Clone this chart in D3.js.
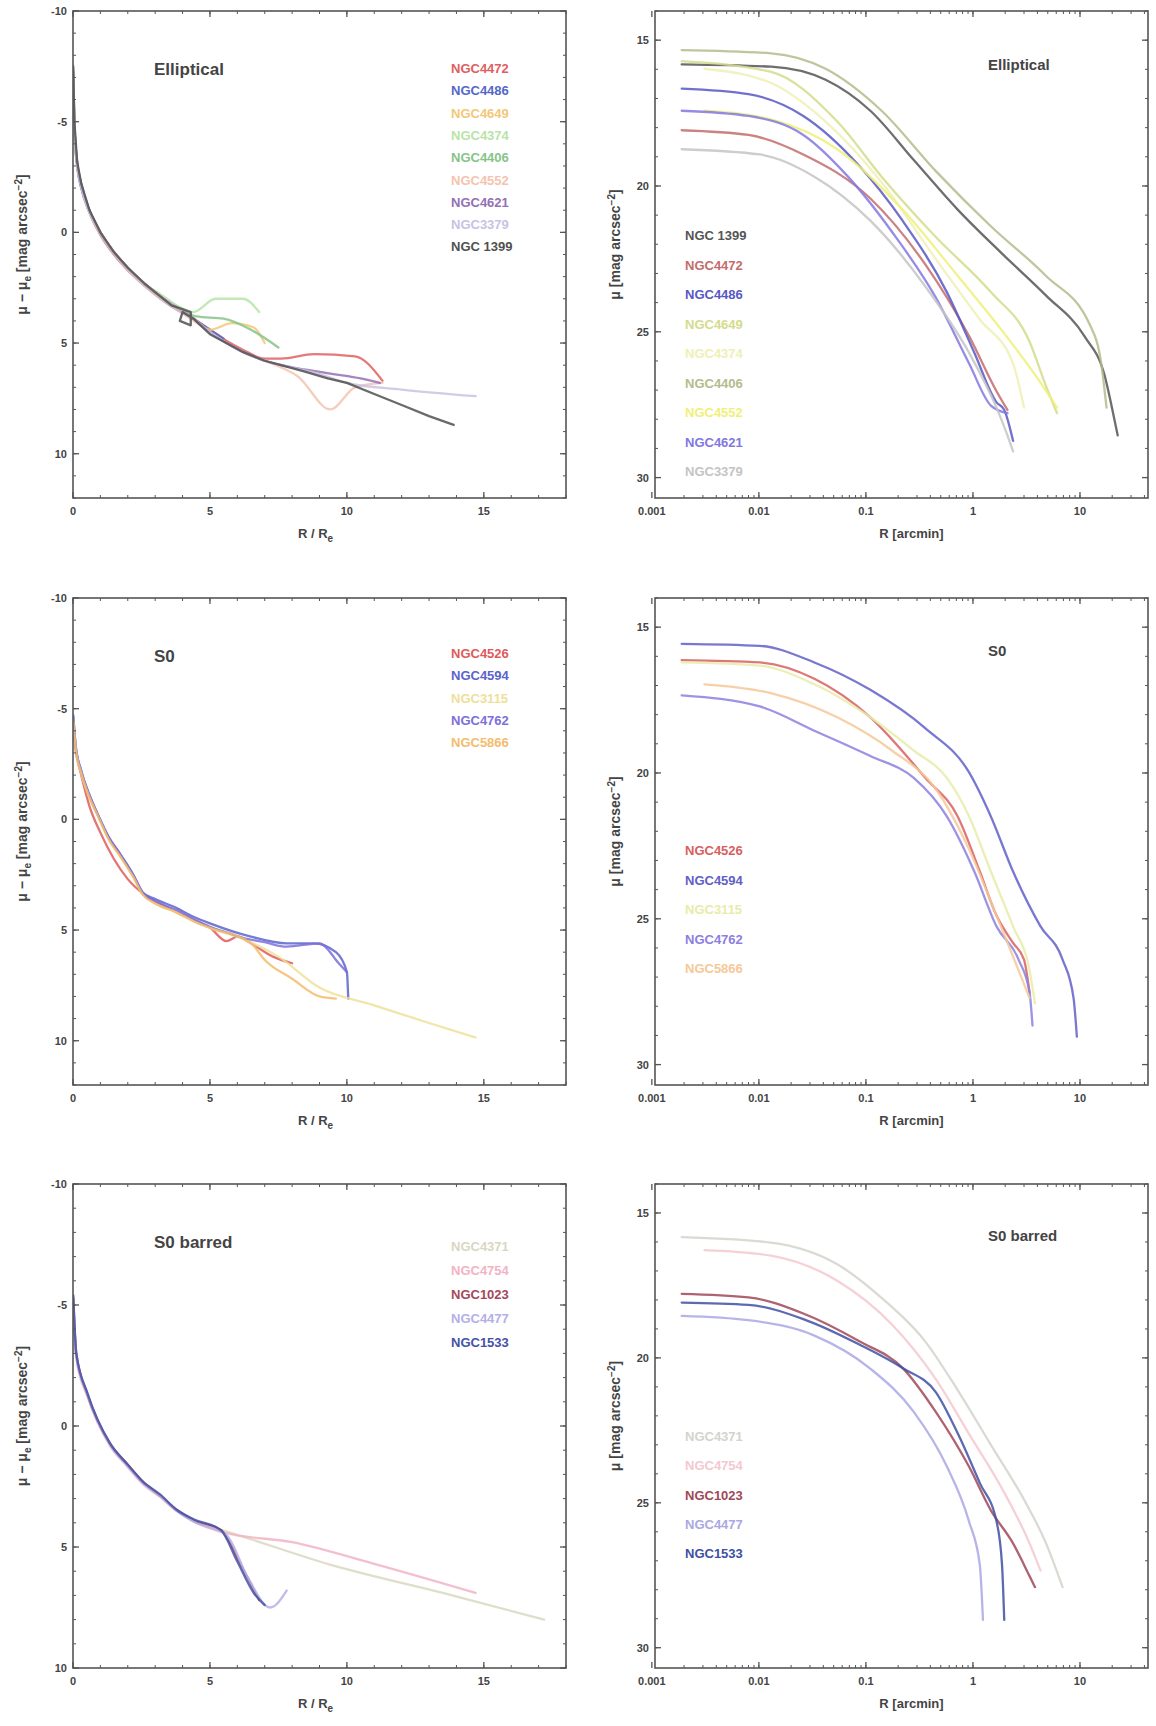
<!DOCTYPE html>
<html><head><meta charset="utf-8">
<script src="https://cdn.jsdelivr.net/npm/d3@7"></script>
<style>body{margin:0;background:#fff;} text{font-family:"Liberation Sans",Arial,sans-serif;}</style>
</head><body>
<svg id="c" width="1156" height="1726"></svg>
<script>
// ---------- tick labels ----------
const leftXTicks = [0, 5, 10, 15];
const leftYTicks = [-10, -5, 0, 5, 10];
const rightXTicks = [0.001, 0.01, 0.1, 1, 10];
const rightXTickLabels = ["0.001", "0.01", "0.1", "1", "10"];
const rightYTicks = [15, 20, 25, 30];

// ---------- panel titles ----------
const rowTitles = ["Elliptical", "S0", "S0 barred"];

// ---------- Row 1: Elliptical ----------
const ellNamesLeft = ["NGC4472", "NGC4486", "NGC4649", "NGC4374", "NGC4406", "NGC4552", "NGC4621", "NGC3379", "NGC 1399"];
const ellColorsLeft = ["#e06060", "#5468c8", "#f2c878", "#b8e4a8", "#86c488", "#f4c4b0", "#9470b4", "#cac2e4", "#505050"];
const ellLeft = [
  [[0.005,-7.2],[0.05,-4.8],[0.15,-3.1],[0.3,-2.1],[0.6,-0.9],[1.0,0.1],[1.5,1.0],[2.0,1.7],[2.6,2.3],[3.2,2.9],[3.8,3.4],[4.4,3.9],[5.0,4.4],[5.6,4.9],[6.2,5.3],[7.0,5.7],[7.6,5.7],[8.8,5.5],[10.3,5.6],[11.3,6.7]],
  [[0.005,-6.8],[0.05,-4.6],[0.15,-3.0],[0.3,-2.0],[0.6,-0.9],[1.0,0.1],[1.5,1.0],[2.0,1.7],[2.6,2.4],[3.2,3.0],[3.8,3.5],[4.4,3.9],[5.0,4.4],[5.5,4.8]],
  [[0.005,-7.0],[0.05,-4.7],[0.15,-3.1],[0.3,-2.1],[0.6,-0.9],[1.0,0.0],[1.5,0.9],[2.0,1.6],[2.6,2.3],[3.2,2.9],[3.8,3.4],[4.4,3.9],[5.0,4.4],[5.8,4.1],[6.6,4.3],[7.0,5.0]],
  [[0.005,-7.6],[0.05,-5.0],[0.15,-3.2],[0.3,-2.2],[0.6,-1.0],[1.0,0.0],[1.5,0.9],[2.0,1.6],[2.6,2.3],[3.2,2.8],[3.8,3.3],[4.4,3.6],[5.2,3.0],[6.2,3.0],[6.8,3.6]],
  [[0.005,-7.4],[0.05,-4.9],[0.15,-3.2],[0.3,-2.2],[0.6,-1.0],[1.0,0.0],[1.5,0.9],[2.0,1.6],[2.6,2.3],[3.2,2.9],[3.8,3.4],[4.5,3.8],[5.5,3.9],[6.5,4.4],[7.5,5.2]],
  [[0.005,-7.1],[0.05,-4.8],[0.15,-3.1],[0.3,-2.1],[0.6,-0.9],[1.0,0.1],[1.5,1.0],[2.0,1.7],[2.6,2.4],[3.2,3.0],[3.8,3.5],[4.4,4.0],[5.0,4.5],[5.6,5.0],[6.2,5.4],[7.0,5.8],[7.6,6.1],[8.2,6.5],[9.4,8.0],[10.3,7.0],[11.3,6.8]],
  [[0.005,-7.3],[0.05,-4.9],[0.15,-3.2],[0.3,-2.2],[0.6,-1.0],[1.0,0.0],[1.5,0.9],[2.0,1.6],[2.6,2.3],[3.2,2.9],[3.8,3.4],[4.4,3.9],[5.0,4.5],[5.6,5.0],[6.2,5.4],[7.0,5.8],[7.6,6.0],[8.5,6.2],[9.5,6.4],[10.5,6.6],[11.2,6.8]],
  [[0.005,-7.0],[0.05,-4.7],[0.15,-3.1],[0.3,-2.1],[0.6,-0.9],[1.0,0.0],[1.5,0.9],[2.0,1.6],[2.6,2.3],[3.2,2.9],[3.8,3.4],[4.4,3.9],[5.0,4.5],[5.6,5.0],[6.2,5.4],[7.0,5.8],[8.0,6.1],[9.0,6.4],[10.0,6.8],[12.0,7.1],[14.7,7.4]],
  [[0.005,-7.5],[0.05,-5.0],[0.15,-3.2],[0.3,-2.2],[0.6,-1.0],[1.0,0.0],[1.5,0.9],[2.0,1.6],[2.6,2.3],[3.2,2.9],[3.6,3.3],[4.3,3.6],[4.3,4.2],[3.9,4.0],[4.0,3.6],[4.4,3.9],[5.0,4.6],[5.6,5.0],[6.2,5.4],[7.0,5.8],[7.6,6.0],[8.5,6.3],[9.3,6.6],[10.0,6.8],[11.0,7.3],[12.0,7.8],[13.0,8.3],[13.9,8.7]]
];
const ellNamesRight = ["NGC 1399", "NGC4472", "NGC4486", "NGC4649", "NGC4374", "NGC4406", "NGC4552", "NGC4621", "NGC3379"];
const ellColorsRight = ["#555555", "#c46c6c", "#5858c4", "#d4dc8c", "#eef0b4", "#b4bc8c", "#f0f078", "#8278e0", "#c4c4c4"];
const ellRight = [
  [[0.0019,15.83],[0.013,15.91],[0.042,16.36],[0.11,17.42],[0.28,19.11],[0.72,20.81],[1.87,22.32],[4.8,23.75],[11,25.15],[16.9,26.47],[20.9,27.98],[22.5,28.55]],
  [[0.0019,18.09],[0.008,18.25],[0.026,18.92],[0.11,20.43],[0.36,22.7],[0.92,25.15],[1.66,27.04],[2.1,27.68]],
  [[0.0019,16.66],[0.008,16.85],[0.026,17.6],[0.086,19.3],[0.22,21.19],[0.57,23.64],[1.03,25.72],[1.66,27.42],[1.96,27.68],[2.37,28.74]],
  [[0.0019,15.72],[0.013,16.09],[0.054,17.79],[0.14,19.68],[0.45,21.75],[1.47,23.64],[3.38,25.34],[4.8,26.85],[6.1,27.79]],
  [[0.0031,15.98],[0.013,16.47],[0.042,17.79],[0.14,19.87],[0.45,22.51],[1.16,24.58],[2.37,26.09],[3.0,27.6]],
  [[0.0019,15.34],[0.013,15.45],[0.042,15.98],[0.14,17.42],[0.45,19.49],[1.47,21.38],[4.8,23.08],[12.4,24.77],[15.8,26.09],[17.7,27.6]],
  [[0.0031,17.42],[0.013,17.72],[0.054,18.74],[0.22,20.81],[0.72,23.08],[1.87,24.96],[3.8,26.47],[6.1,27.6]],
  [[0.0019,17.42],[0.008,17.6],[0.026,18.25],[0.068,19.68],[0.175,21.57],[0.45,23.83],[0.92,26.09],[1.47,27.53],[2.1,27.79]],
  [[0.0019,18.74],[0.0102,18.92],[0.033,19.68],[0.11,21.19],[0.36,23.45],[0.92,25.72],[1.66,27.6],[2.1,28.55],[2.37,29.1]]
];

// ---------- Row 2: S0 ----------
const s0NamesLeft = ["NGC4526", "NGC4594", "NGC3115", "NGC4762", "NGC5866"];
const s0ColorsLeft = ["#e05a5a", "#5a64cc", "#eee09a", "#7c70dc", "#f4bc6c"];
const s0Left = [
  [[0.01,-4.0],[0.1,-3.1],[0.3,-2.0],[0.6,-0.6],[1.0,0.6],[1.5,1.8],[2.0,2.7],[2.6,3.4],[3.5,4.0],[4.5,4.6],[5.0,4.9],[5.6,5.5],[6.0,5.3],[6.5,5.6],[7.3,6.2],[8.0,6.5]],
  [[0.01,-4.7],[0.1,-3.3],[0.3,-2.2],[0.6,-1.1],[0.93,-0.15],[1.3,0.8],[1.74,1.6],[2.2,2.5],[2.55,3.3],[3.0,3.6],[3.77,4.0],[4.4,4.4],[5.0,4.7],[6.5,5.3],[7.8,5.6],[8.8,5.6],[9.6,6.0],[10.0,6.9],[10.05,8.1]],
  [[0.01,-4.5],[0.1,-3.2],[0.3,-2.1],[0.6,-1.0],[0.93,-0.1],[1.3,0.9],[1.74,1.7],[2.2,2.6],[2.55,3.4],[3.0,3.8],[3.77,4.2],[4.4,4.6],[5.0,4.9],[6.2,5.4],[7.5,6.2],[9.0,7.6],[11.0,8.4],[13.0,9.2],[14.7,9.85]],
  [[0.01,-4.6],[0.1,-3.3],[0.3,-2.2],[0.6,-1.1],[0.93,-0.15],[1.3,0.8],[1.74,1.6],[2.2,2.5],[2.55,3.35],[3.0,3.7],[3.77,4.1],[4.4,4.5],[5.0,4.85],[5.6,5.1],[6.2,5.35],[7.0,5.55],[7.8,5.75],[9.0,5.6],[9.7,6.5],[10.0,6.9]],
  [[0.01,-4.4],[0.1,-3.2],[0.3,-2.1],[0.6,-1.0],[0.93,-0.1],[1.3,0.9],[1.74,1.7],[2.2,2.6],[2.55,3.4],[3.0,3.8],[3.77,4.2],[4.4,4.6],[5.0,4.9],[6.5,5.6],[7.0,6.35],[8.0,7.2],[9.0,8.0],[9.6,8.1]]
];
const s0NamesRight = ["NGC4526", "NGC4594", "NGC3115", "NGC4762", "NGC5866"];
const s0ColorsRight = ["#d86060", "#6060c8", "#e8eca8", "#8c80e0", "#f6c898"];
const s0Right = [
  [[0.0019,16.13],[0.0102,16.21],[0.033,16.77],[0.11,18.09],[0.36,20.17],[0.72,21.49],[1.16,23.38],[1.66,24.89],[2.37,25.83],[3.0,26.4],[3.38,27.53]],
  [[0.0019,15.57],[0.0102,15.64],[0.033,16.21],[0.11,17.15],[0.36,18.47],[0.92,19.98],[1.47,21.49],[2.37,23.38],[4.28,25.26],[6.88,26.4],[8.71,27.72],[9.35,29.04]],
  [[0.0019,16.21],[0.0102,16.32],[0.033,16.96],[0.11,18.09],[0.28,19.23],[0.57,20.17],[0.92,21.49],[1.47,23.38],[2.37,25.26],[3.38,26.77],[3.8,27.9]],
  [[0.0019,17.34],[0.0102,17.72],[0.033,18.55],[0.11,19.42],[0.28,20.17],[0.57,21.49],[1.03,23.38],[1.66,25.26],[2.67,26.4],[3.38,27.53],[3.6,28.66]],
  [[0.0031,16.96],[0.0129,17.26],[0.054,18.09],[0.175,19.23],[0.45,20.55],[0.92,22.62],[1.66,24.89],[2.67,26.77],[3.38,27.72]]
];

// ---------- Row 3: S0 barred ----------
const sbNamesLeft = ["NGC4371", "NGC4754", "NGC1023", "NGC4477", "NGC1533"];
const sbColorsLeft = ["#d8d8c0", "#f2b4c4", "#a44858", "#b4b0e8", "#4452a8"];
const sbLeft = [
  [[0.01,-5.2],[0.12,-2.9],[0.53,-1.3],[1.34,0.73],[2.0,1.6],[2.55,2.33],[3.2,2.9],[3.77,3.47],[4.4,3.9],[5.0,4.15],[6.0,4.5],[9.45,5.75],[13.5,6.9],[17.2,8.0]],
  [[0.01,-5.0],[0.12,-2.8],[0.53,-1.2],[1.34,0.8],[2.0,1.7],[2.55,2.4],[3.2,2.95],[3.77,3.5],[4.4,3.95],[5.5,4.4],[8.0,4.8],[11.0,5.7],[14.7,6.9]],
  [[0.01,-5.3],[0.12,-3.0],[0.53,-1.3],[1.34,0.7],[2.0,1.6],[2.55,2.3],[3.2,2.9],[3.77,3.45],[4.4,3.9],[5.4,4.3],[6.2,5.9],[6.8,7.2]],
  [[0.01,-5.1],[0.12,-2.9],[0.53,-1.3],[1.34,0.75],[2.0,1.65],[2.55,2.35],[3.2,2.9],[3.77,3.5],[4.4,3.95],[5.6,4.5],[6.4,6.3],[7.2,7.5],[7.8,6.8]],
  [[0.01,-5.4],[0.12,-3.0],[0.53,-1.35],[1.34,0.7],[2.0,1.6],[2.55,2.3],[3.2,2.85],[3.77,3.45],[4.4,3.85],[5.4,4.3],[6.0,5.6],[6.6,6.9],[7.0,7.4]]
];
const sbNamesRight = ["NGC4371", "NGC4754", "NGC1023", "NGC4477", "NGC1533"];
const sbColorsRight = ["#d4d4cc", "#f4c8d0", "#a04858", "#aaa8e4", "#4050a4"];
const sbRight = [
  [[0.0019,15.83],[0.0129,16.02],[0.054,16.77],[0.138,17.91],[0.356,19.42],[0.72,21.11],[1.47,23.0],[3.0,24.89],[4.82,26.4],[6.88,27.91]],
  [[0.0031,16.28],[0.0129,16.47],[0.054,17.34],[0.175,18.85],[0.451,20.74],[0.918,22.62],[1.87,24.51],[3.38,26.4],[4.28,27.34]],
  [[0.0019,17.79],[0.008,17.91],[0.026,18.47],[0.086,19.42],[0.222,20.36],[0.451,21.87],[0.918,23.75],[1.47,25.26],[2.37,26.4],[3.38,27.53],[3.8,27.91]],
  [[0.0019,18.55],[0.008,18.7],[0.033,19.23],[0.109,20.36],[0.281,21.87],[0.571,23.75],[0.918,25.64],[1.16,27.15],[1.24,29.04]],
  [[0.0019,18.09],[0.008,18.17],[0.026,18.66],[0.086,19.53],[0.222,20.36],[0.451,21.19],[0.724,22.62],[1.16,24.32],[1.66,25.64],[1.87,27.15],[1.96,29.04]]
];

// ---------- layout ----------
const svg = d3.select("#c");
const rows = [
  {top: 11, bottom: 498, ly: [-10, 12], title: rowTitles[0],
   L: {data: ellLeft, names: ellNamesLeft, colors: ellColorsLeft, legTop: 73, legStep: 22.3},
   R: {data: ellRight, names: ellNamesRight, colors: ellColorsRight, legTop: 240, legStep: 29.5, titleY: 64}},
  {top: 598, bottom: 1085, ly: [-10, 12], title: rowTitles[1],
   L: {data: s0Left, names: s0NamesLeft, colors: s0ColorsLeft, legTop: 658, legStep: 22.3},
   R: {data: s0Right, names: s0NamesRight, colors: s0ColorsRight, legTop: 855, legStep: 29.5, titleY: 650}},
  {top: 1184, bottom: 1668, ly: [-10, 10], title: rowTitles[2],
   L: {data: sbLeft, names: sbNamesLeft, colors: sbColorsLeft, legTop: 1251, legStep: 24},
   R: {data: sbRight, names: sbNamesRight, colors: sbColorsRight, legTop: 1441, legStep: 29.3, titleY: 1235}}
];
const LX0 = 73, LX1 = 566, RX0 = 655, RX1 = 1148;
const axisCol = "#555", labCol = "#444";
let clipId = 0;

function frameAndTicks(g, x, y, x0, x1, y0, y1, xMaj, xMin, yMaj, yMin, xFmt, yFmt) {
  const tick = (x1a, y1a, x2a, y2a, w) => g.append("line").attr("x1", x1a).attr("y1", y1a).attr("x2", x2a).attr("y2", y2a)
      .attr("stroke", axisCol).attr("stroke-width", w);
  xMin.forEach(v => { const p = x(v); if (p < x0 || p > x1) return; tick(p, y1, p, y1 - 3, 1); tick(p, y0, p, y0 + 3, 1); });
  yMin.forEach(v => { const p = y(v); if (p < y0 || p > y1) return; tick(x0, p, x0 + 3, p, 1); tick(x1, p, x1 - 3, p, 1); });
  xMaj.forEach((v, i) => { const p = x(v); tick(p, y1, p, y1 - 6, 1.3); tick(p, y0, p, y0 + 6, 1.3);
    g.append("text").attr("x", p).attr("y", y1 + 17).attr("text-anchor", "middle").attr("font-size", 11).attr("font-weight", "bold").attr("fill", labCol).text(xFmt(v, i)); });
  yMaj.forEach((v, i) => { const p = y(v); tick(x0, p, x0 + 6, p, 1.3); tick(x1, p, x1 - 6, p, 1.3);
    g.append("text").attr("x", x0 - 6).attr("y", p + 4).attr("text-anchor", "end").attr("font-size", 11).attr("font-weight", "bold").attr("fill", labCol).text(yFmt(v, i)); });
  g.append("rect").attr("x", x0).attr("y", y0).attr("width", x1 - x0).attr("height", y1 - y0)
    .attr("fill", "none").attr("stroke", axisCol).attr("stroke-width", 1.6);
}

function drawLines(g, x, y, x0, x1, y0, y1, data, colors) {
  const id = "clip" + (clipId++);
  g.append("clipPath").attr("id", id).append("rect").attr("x", x0).attr("y", y0).attr("width", x1 - x0).attr("height", y1 - y0);
  const line = d3.line().x(d => x(d[0])).y(d => y(d[1])).curve(d3.curveMonotoneX);
  const lineLin = d3.line().x(d => x(d[0])).y(d => y(d[1])).curve(d3.curveLinear);
  const lg = g.append("g").attr("clip-path", `url(#${id})`);
  data.forEach((s, i) => {
    let mono = true; for (let k = 1; k < s.length; k++) if (s[k][0] <= s[k-1][0]) mono = false;
    lg.append("path").attr("d", mono ? line(s) : lineLin(s)).attr("fill", "none").attr("stroke", colors[i])
      .attr("stroke-width", 2.3).attr("stroke-opacity", 0.85).attr("stroke-linejoin", "round").attr("stroke-linecap", "round");
  });
}

rows.forEach((r, ri) => {
  // ----- left panel -----
  const gL = svg.append("g");
  const xL = d3.scaleLinear().domain([0, 18]).range([LX0, LX1]);
  const yL = d3.scaleLinear().domain(r.ly).range([r.top, r.bottom]);
  drawLines(gL, xL, yL, LX0, LX1, r.top, r.bottom, r.L.data, r.L.colors);
  frameAndTicks(gL, xL, yL, LX0, LX1, r.top, r.bottom, leftXTicks, d3.range(0, 19, 1), leftYTicks, d3.range(r.ly[0], r.ly[1] + 1, 1),
    v => String(v), v => String(v));
  gL.append("text").attr("x", 154).attr("y", r.top + 64).attr("font-size", 17).attr("font-weight", "bold").attr("fill", labCol).text(r.title);
  r.L.names.forEach((n, i) => gL.append("text").attr("x", 451).attr("y", r.L.legTop + i * r.L.legStep).attr("font-size", 13).attr("font-weight", "bold")
    .attr("fill", r.L.colors[i]).text(n));
  const xt = gL.append("text").attr("x", (LX0 + LX1) / 2 - 4).attr("y", r.bottom + 40).attr("text-anchor", "middle").attr("font-size", 13).attr("font-weight", "bold").attr("fill", labCol);
  xt.append("tspan").text("R / R");
  xt.append("tspan").attr("font-size", 10).attr("dy", 4).text("e");
  const yt = gL.append("text").attr("transform", `translate(27,${(r.top + r.bottom) / 2 - 10}) rotate(-90)`).attr("text-anchor", "middle").attr("font-size", 14).attr("font-weight", "bold").attr("fill", labCol);
  yt.append("tspan").text("μ − μ");
  yt.append("tspan").attr("font-size", 10).attr("dy", 4).text("e");
  yt.append("tspan").attr("dy", -4).text(" [mag arcsec");
  yt.append("tspan").attr("font-size", 10).attr("dy", -5).text("−2");
  yt.append("tspan").attr("dy", 5).text("]");

  // ----- right panel -----
  const gR = svg.append("g");
  const xR = d3.scaleLog().domain([0.00107, 43.2]).range([RX0, RX1]);
  const yR = d3.scaleLinear().domain([14, 30.7]).range([r.top, r.bottom]);
  drawLines(gR, xR, yR, RX0, RX1, r.top, r.bottom, r.R.data, r.R.colors);
  const minorX = [];
  [0.001, 0.01, 0.1, 1, 10].forEach(d => { for (let k = 1; k < 10; k++) minorX.push(d * k); });
  frameAndTicks(gR, xR, yR, RX0, RX1, r.top, r.bottom, rightXTicks, minorX, rightYTicks, d3.range(14, 31, 1),
    (v, i) => rightXTickLabels[i], v => String(v));
  gR.append("text").attr("x", 988).attr("y", r.R.titleY + 6).attr("font-size", 15).attr("font-weight", "bold").attr("fill", labCol).text(r.title);
  r.R.names.forEach((n, i) => gR.append("text").attr("x", 685).attr("y", r.R.legTop + i * r.R.legStep).attr("font-size", 13).attr("font-weight", "bold")
    .attr("fill", r.R.colors[i]).text(n));
  const xt2 = gR.append("text").attr("x", (RX0 + RX1) / 2 + 10).attr("y", r.bottom + 40).attr("text-anchor", "middle").attr("font-size", 13).attr("font-weight", "bold").attr("fill", labCol);
  xt2.text("R [arcmin]");
  const yt2 = gR.append("text").attr("transform", `translate(620,${(r.top + r.bottom) / 2 - 10}) rotate(-90)`).attr("text-anchor", "middle").attr("font-size", 14).attr("font-weight", "bold").attr("fill", labCol);
  yt2.append("tspan").text("μ [mag arcsec");
  yt2.append("tspan").attr("font-size", 10).attr("dy", -5).text("−2");
  yt2.append("tspan").attr("dy", 5).text("]");
});
</script>
</body></html>
